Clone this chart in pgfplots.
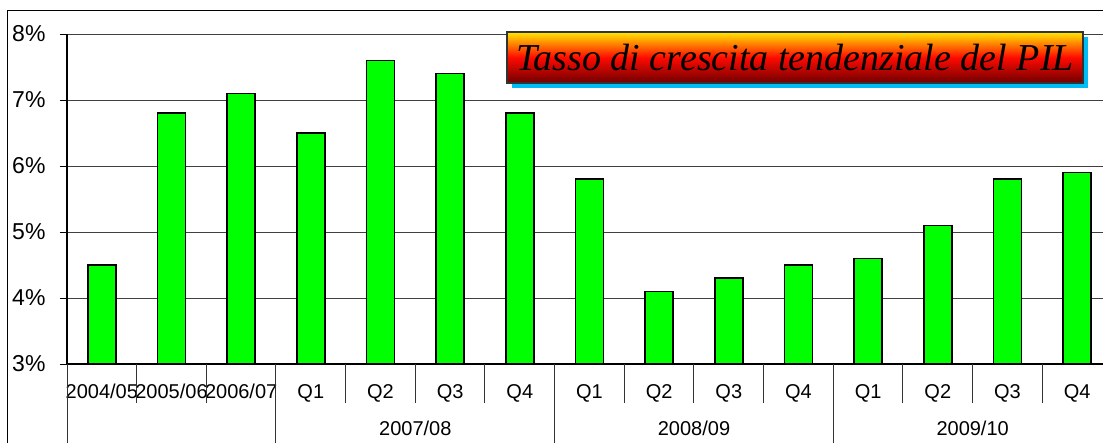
\documentclass[border=0pt]{standalone}
\usepackage{pgfplots}
\pgfplotsset{compat=1.18}
\usepackage{fontspec}
\setmainfont{Liberation Sans}
\newfontfamily\titlefont{Liberation Serif}
\usetikzlibrary{shadows}
\definecolor{bargreen}{RGB}{0,255,0}
\definecolor{shadowblue}{RGB}{0,190,245}
\definecolor{topyellow}{RGB}{255,232,0}
\definecolor{midred}{RGB}{255,10,0}
\definecolor{botred}{RGB}{110,0,0}
\begin{document}
\begin{tikzpicture}
\path[use as bounding box] (-67pt,-78pt) rectangle (1036pt,364pt);
\clip (-67pt,-78pt) rectangle (1036pt,364pt);
\draw[line width=1pt] (-59pt,-200pt) -- (-59pt,353pt) -- (1200pt,353pt);
\begin{axis}[
  at={(0pt,0pt)}, anchor=south west,
  scale only axis, width=1045pt, height=330pt,
  xmin=-0.5, xmax=14.5, ymin=3, ymax=8,
  axis x line*=bottom, axis y line*=left,
  axis line style={line width=1.2pt, -},
  ytick={3,4,5,6,7,8},
  yticklabel={\pgfmathprintnumber{\tick}\%},
  /pgf/number format/assume math mode=true,
  ymajorgrids, grid style={black!75, line width=1pt},
  tick align=outside,
  ytick style={line width=1pt, black},
  major tick length=7pt,
  yticklabel style={font=\fontsize{23}{26}\selectfont, xshift=-11pt},
  xtick={0,...,14},
  xticklabels={2004/05,2005/06,2006/07,Q1,Q2,Q3,Q4,Q1,Q2,Q3,Q4,Q1,Q2,Q3,Q4},
  xtick style={draw=none},
  xticklabel style={font=\fontsize{20}{24}\selectfont, anchor=base, yshift=-27pt, inner sep=0pt},
  clip=true,
]
\addplot[ybar, bar width=28pt, fill=bargreen, draw=black, line width=1.6pt]
  coordinates {(0,4.5) (1,6.8) (2,7.1) (3,6.5) (4,7.6) (5,7.4) (6,6.8) (7,5.8) (8,4.1) (9,4.3) (10,4.5) (11,4.6) (12,5.1) (13,5.8) (14,5.9)};
\end{axis}
\begin{axis}[
  at={(0pt,0pt)}, anchor=south west,
  scale only axis, width=1045pt, height=330pt,
  xmin=-0.5, xmax=14.5, ymin=3, ymax=8,
  hide axis, clip=false,
]
\foreach \s in {0.5,1.5,3.5,4.5,5.5,7.5,8.5,9.5,11.5,12.5,13.5}{
  \edef\temp{\noexpand\draw[black!80, line width=1pt] (axis cs:\s,3) -- (axis cs:\s,2.41);}
  \temp
}
\foreach \s in {-0.5,2.5,6.5,10.5,14.5}{
  \edef\temp{\noexpand\draw[black!80, line width=1pt] (axis cs:\s,3) -- (axis cs:\s,1.5);}
  \temp
}
\node[font=\fontsize{20}{24}\selectfont] at (axis cs:4.5,2.03) {2007/08};
\node[font=\fontsize{20}{24}\selectfont] at (axis cs:8.5,2.03) {2008/09};
\node[font=\fontsize{20}{24}\selectfont] at (axis cs:12.5,2.03) {2009/10};
\end{axis}
\node[draw=black!80, line width=1.2pt, minimum width=576pt, minimum height=51pt, inner sep=0pt,
  top color=topyellow, bottom color=botred, middle color=midred,
  drop shadow={shadow xshift=5pt, shadow yshift=-5pt, fill=shadowblue, opacity=1},
  font=\titlefont\itshape\fontsize{38}{42}\selectfont]
  at (728pt,306.5pt) {Tasso di crescita tendenziale del PIL};
\end{tikzpicture}
\end{document}
